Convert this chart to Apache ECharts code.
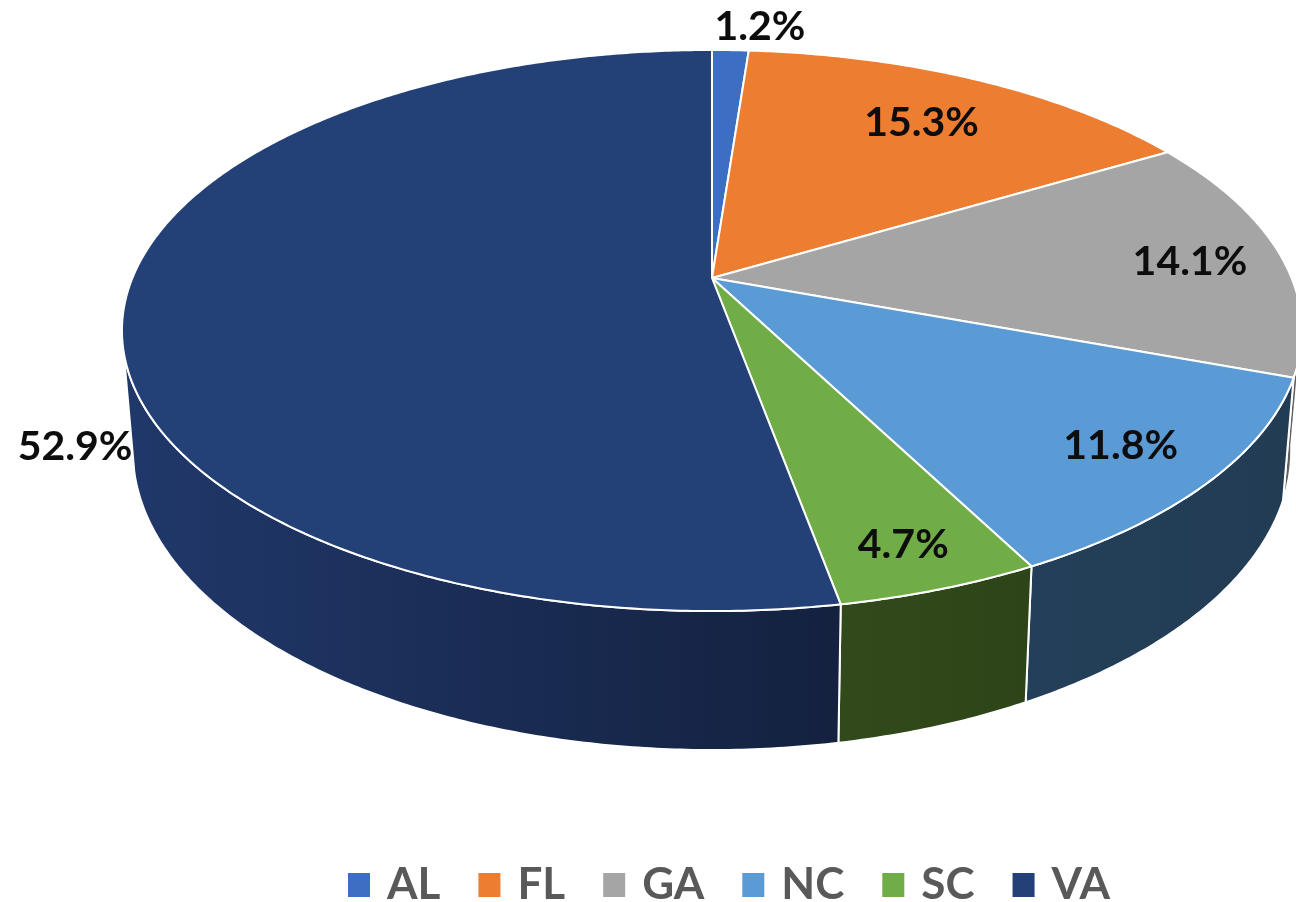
<!DOCTYPE html>
<html lang="en">
<head>
    <meta charset="UTF-8">
    <title>Share by state</title>
    <script src="https://cdn.jsdelivr.net/npm/echarts@6/dist/echarts.min.js"></script>
    <style>
        html, body { margin: 0; padding: 0; background: #fff; }
    </style>
</head>
<body>
    <div id="pie" style="width: 1296px; height: 902px;"></div>
<script>
    var states = ['AL', 'FL', 'GA', 'NC', 'SC', 'VA'];
    var shares = [1.2, 15.3, 14.1, 11.8, 4.7, 52.9];

    var topColors = ['#3c6ec4', '#ed7d31', '#a5a5a5', '#5b9bd5', '#70ad47', '#234177'];
    var wallColors = [
        ['#3c6ec4', '#3c6ec4'],
        ['#ed7d31', '#ed7d31'],
        ['#5f5f5f', '#5f5f5f'],
        ['#243f59', '#223c54'],
        ['#324a1b', '#2d4418'],
        ['#20386a', '#14213f']
    ];
    // where each label sits: clock angle in degrees, and distance as a part of the radius
    var labelAngle = [5.1, 32.2, 85.9, 131.4, 161.5, 240.5];
    var labelReach = [1.126, 0.76, 0.836, 0.842, 0.878, 1.131];

    // the tilted disc: top face and bottom rim share the same perspective
    var tilt = 0.1872;
    var topFace = { x: 712, y: 278, a: 579.6, b: 270.7 };
    var bottomRim = { x: 712, y: 394, a: 569, b: 289.4 };
    var wallFrom = 100, wallTo = 255;

    function project(face, deg, reach) {
        var t = deg * Math.PI / 180;
        var u = reach * Math.sin(t), v = reach * Math.cos(t);
        var w = 1 + tilt * v;
        return [face.x + face.a * u / w, face.y - face.b * v / w];
    }

    function arc(face, from, to) {
        var pts = [];
        var n = Math.max(2, Math.ceil(Math.abs(to - from) * 2));
        for (var i = 0; i <= n; i++) {
            pts.push(project(face, from + (to - from) * i / n, 1));
        }
        return pts;
    }

    function sliceStart(index) {
        var sum = 0;
        for (var i = 0; i < index; i++) sum += shares[i];
        return sum * 3.6;
    }

    function renderSlice(params, api) {
        var i = params.seriesIndex;
        var value = api.value(0);
        var start = sliceStart(i);
        var end = start + value * 3.6;
        var children = [];

        var from = Math.max(start, wallFrom), to = Math.min(end, wallTo);
        if (to > from) {
            children.push({
                type: 'polygon',
                shape: { points: arc(topFace, from, to).concat(arc(bottomRim, to, from)) },
                style: {
                    fill: new echarts.graphic.LinearGradient(0, 0, 1, 0, [
                        { offset: 0, color: wallColors[i][0] },
                        { offset: 1, color: wallColors[i][1] }
                    ]),
                    stroke: '#fff',
                    lineWidth: 2
                }
            });
        }

        children.push({
            type: 'polygon',
            shape: { points: [[topFace.x, topFace.y]].concat(arc(topFace, start, end)) },
            style: { fill: topColors[i], stroke: '#fff', lineWidth: 2, lineJoin: 'round' }
        });

        var spot = project(topFace, labelAngle[i], labelReach[i]);
        children.push({
            type: 'text',
            z2: 100,
            style: {
                text: value.toFixed(1) + '%',
                x: spot[0],
                y: spot[1],
                align: 'center',
                verticalAlign: 'middle',
                fill: '#0d0d0d',
                font: 'bold 41px Lato'
            }
        });

        return { type: 'group', children: children };
    }

    var pie = echarts.init(document.getElementById('pie'));
    pie.setOption({
        animation: false,
        legend: {
            data: states,
            left: 343,
            top: 858,
            icon: 'rect',
            itemWidth: 22,
            itemHeight: 24,
            itemGap: 38,
            textStyle: {
                color: '#595959',
                fontFamily: 'Lato',
                fontWeight: 'bold',
                fontSize: 44,
                padding: [0, 0, 0, 12]
            }
        },
        series: states.map(function (name, i) {
            return {
                type: 'custom',
                name: name,
                coordinateSystem: 'none',
                silent: true,
                clip: false,
                itemStyle: { color: topColors[i] },
                renderItem: renderSlice,
                data: [[shares[i]]]
            };
        })
    });
    window.onresize = pie.resize;
</script>
</body>
</html>
